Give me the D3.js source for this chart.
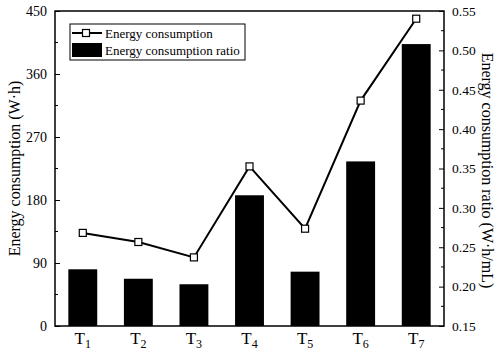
<!DOCTYPE html>
<html><head><meta charset="utf-8">
<script src="https://cdn.jsdelivr.net/npm/d3@7"></script>
<style>body{margin:0;background:#fff} svg text{font-family:"Liberation Serif","Tinos","Times New Roman","DejaVu Serif",serif !important}</style>
</head><body><svg id="c" width="498" height="353"></svg>
<script>
const categories = ["1","2","3","4","5","6","7"];
const energyConsumption = [133, 120, 98, 228, 139, 322, 439];
const consumptionRatio = [0.222, 0.210, 0.203, 0.316, 0.219, 0.359, 0.508];
const leftTicks = [0, 90, 180, 270, 360, 450];
const rightTicks = [0.15, 0.20, 0.25, 0.30, 0.35, 0.40, 0.45, 0.50, 0.55];

const m = {l:55, r:54, t:11, b:27};
const W = 498, H = 353;
const svg = d3.select("#c");
const x = d3.scaleBand().domain(categories).range([m.l, W - m.r]).paddingInner(0.48).paddingOuter(0.24);
const yL = d3.scaleLinear().domain([0, 450]).range([H - m.b, m.t]);
const yR = d3.scaleLinear().domain([0.15, 0.55]).range([H - m.b, m.t]);

// bars
svg.append("g").selectAll("rect").data(consumptionRatio).join("rect")
  .attr("x", (d,i)=>x(categories[i])).attr("width", x.bandwidth())
  .attr("y", d=>yR(d)).attr("height", d=>yR(0.15)-yR(d)).attr("fill","#000");

// frame
svg.append("rect").attr("x", m.l).attr("y", m.t).attr("width", W-m.l-m.r).attr("height", H-m.t-m.b)
  .attr("fill","none").attr("stroke","#000").attr("stroke-width",1.5);

// left axis
const gl = svg.append("g").attr("transform",`translate(${m.l},0)`)
  .call(d3.axisLeft(yL).tickValues(leftTicks).tickSizeInner(-5).tickSizeOuter(0).tickPadding(8));
gl.selectAll(".tick text").attr("font-size",14);
const minorL = d3.range(45, 450, 90);
gl.selectAll(".mnr").data(minorL).join("line").attr("x1",0).attr("x2",3).attr("y1",d=>yL(d)).attr("y2",d=>yL(d)).attr("stroke","#000");

// right axis
const gr = svg.append("g").attr("transform",`translate(${W-m.r},0)`)
  .call(d3.axisRight(yR).tickValues(rightTicks).tickFormat(d3.format(".2f")).tickSizeInner(-5).tickSizeOuter(0).tickPadding(8));
gr.selectAll(".tick text").attr("font-size",13.5);
const minorR = d3.range(0.175, 0.55, 0.05);
gr.selectAll(".mnr").data(minorR).join("line").attr("x1",0).attr("x2",-3).attr("y1",d=>yR(d)).attr("y2",d=>yR(d)).attr("stroke","#000");
[gl, gr].forEach(g=>g.select(".domain").remove());

// x labels with subscript
const xl = svg.append("g");
categories.forEach(c=>{
  const t = xl.append("text").attr("x", x(c)+x.bandwidth()/2).attr("y", 344).attr("text-anchor","middle")
    .attr("font-size",17);
  t.append("tspan").text("T");
  t.append("tspan").attr("font-size",12).attr("dy",4).text(c);
});

// line
const cx = i => x(categories[i]) + x.bandwidth()/2;
svg.append("path").datum(energyConsumption)
  .attr("d", d3.line().x((d,i)=>cx(i)).y(d=>yL(d)))
  .attr("fill","none").attr("stroke","#000").attr("stroke-width",2);
svg.append("g").selectAll("rect").data(energyConsumption).join("rect")
  .attr("x",(d,i)=>cx(i)-3.5).attr("y",d=>yL(d)-3.5).attr("width",7).attr("height",7)
  .attr("fill","#fff").attr("stroke","#000").attr("stroke-width",1.2);

// axis titles
svg.append("text").attr("transform",`translate(20,${(m.t+H-m.b)/2}) rotate(-90)`).attr("text-anchor","middle")
  .attr("font-size",16).text("Energy consumption (W·h)");
svg.append("text").attr("transform",`translate(482,${(m.t+H-m.b)/2+2}) rotate(90)`).attr("text-anchor","middle")
  .attr("font-size",16).text("Energy consumption ratio (W·h/mL)");

// legend
const lg = svg.append("g");
lg.append("rect").attr("x",70).attr("y",24).attr("width",175).attr("height",36).attr("fill","#fff").attr("stroke","#000").attr("stroke-width",1);
lg.append("line").attr("x1",72).attr("x2",102).attr("y1",33).attr("y2",33).attr("stroke","#000").attr("stroke-width",2);
lg.append("rect").attr("x",82.5).attr("y",29.5).attr("width",7).attr("height",7).attr("fill","#fff").attr("stroke","#000").attr("stroke-width",1.2);
lg.append("rect").attr("x",72).attr("y",43).attr("width",30).attr("height",14).attr("fill","#000");
lg.append("text").attr("x",105).attr("y",38).attr("font-size",13).text("Energy consumption");
lg.append("text").attr("x",105).attr("y",55).attr("font-size",13).text("Energy consumption ratio");
</script></body></html>
